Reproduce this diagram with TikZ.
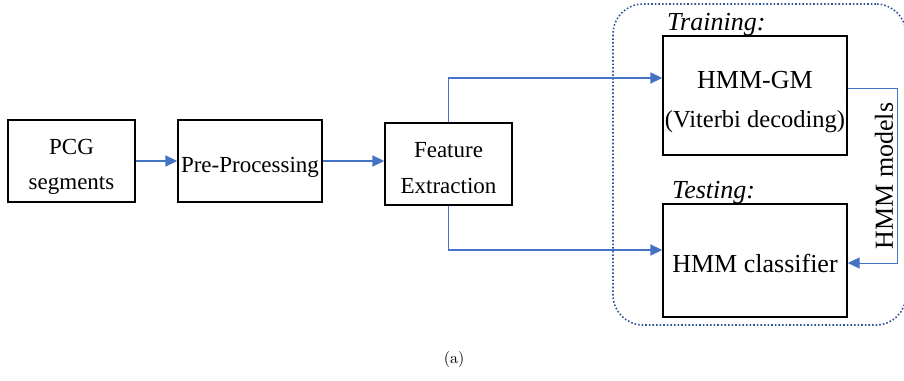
\documentclass[tikz,border=0pt]{standalone}
\usepackage{fontspec}
\newfontfamily\tnr{Liberation Serif}
\usetikzlibrary{arrows.meta,calc}
\definecolor{arrblue}{HTML}{4472C4}
\definecolor{dotblue}{HTML}{2F5597}
\newcommand{\dnrule}[1]{\rule{0pt}{#1}}
\begin{document}
\begin{tikzpicture}[x=1pt,y=-1pt,
  box/.style={draw=black,line width=1.4pt,align=center,inner sep=0pt,
    font=\tnr\fontsize{23}{35}\selectfont},
  bigbox/.style={box,font=\tnr\fontsize{26}{39}\selectfont},
  lbl/.style={font=\tnr\itshape\fontsize{26}{28}\selectfont,inner sep=0pt},
  conn/.style={draw=arrblue,line width=1.7pt,-{Triangle[length=12pt,width=11pt]}},
  thin conn/.style={draw=arrblue,line width=1pt,-{Triangle[length=12pt,width=11pt]}}]
\useasboundingbox (0,0) rectangle (904,380);
% container
\node[draw=dotblue,dotted,line width=1.6pt,rounded corners=30pt,inner sep=0pt,
  minimum width=293pt,minimum height=321pt] (grp) at (759.5,164.5) {};
% boxes
\node[box,minimum width=127pt,minimum height=82pt] (pcg) at (71.5,161) {\dnrule{26pt}PCG\\segments};
\node[box,minimum width=144pt,minimum height=82pt] (pre) at (250,161) {\dnrule{28pt}Pre-Processing};
\node[box,minimum width=127pt,minimum height=82pt,font=\tnr\fontsize{23}{36}\selectfont] (fe) at (448.5,164) {\dnrule{24pt}Feature\\Extraction};
\node[bigbox,minimum width=184pt,minimum height=119pt,font=\tnr\fontsize{26}{39}\selectfont] (gm) at (755,95.5) {\dnrule{30pt}HMM-GM\\{\fontsize{24.5}{39}\selectfont(Viterbi decoding)}};
\node[bigbox,minimum width=184pt,minimum height=113pt] (cls) at (755,260.5) {\dnrule{25pt}HMM classifier};
% labels
\node[lbl,anchor=base west] (tr) at (667,30) {Training:};
\node[lbl,anchor=base west] (te) at (672,198) {Testing:};
\node[font=\tnr\fontsize{26}{28}\selectfont,rotate=90,inner sep=0pt] (mods) at (884,176) {HMM models};
\node[inner sep=0pt] (cap) at (454,359) {\scalebox{1.6}{(a)}};
% coordinates
\coordinate (gmin) at ($(gm.west)+(0,-17.5)$);
\coordinate (clsin) at ($(cls.west)+(0,-10.5)$);
\coordinate (gmout) at ($(gm.east)+(0,-7.5)$);
\coordinate (clsr) at ($(cls.east)+(0,2.5)$);
\coordinate (turn) at (897,0);
% connectors
\draw[conn] (pcg.east) -- (pre.west);
\draw[conn] (pre.east) -- (pre.east -| fe.west);
\draw[conn] (fe.north) |- (gmin);
\draw[conn] (fe.south) |- (clsin);
\draw[thin conn] (gmout) -- (gmout -| turn) -- (clsr -| turn) -- (clsr);
\end{tikzpicture}
\end{document}
